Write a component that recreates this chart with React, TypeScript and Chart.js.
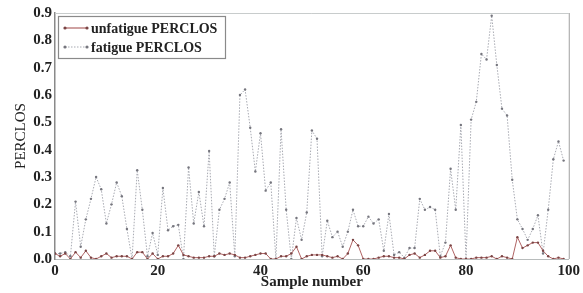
import React, { useEffect, useRef } from "react";
import { Chart, registerables } from "chart.js";

Chart.register(...registerables);

const samples: number[] = Array.from({ length: 100 }, (_, i) => i);

const unfatigue: number[] = [
  0.02, 0.01, 0.02, 0.0, 0.025, 0.005, 0.03, 0.005, 0.0, 0.01,
  0.02, 0.005, 0.01, 0.01, 0.01, 0.0, 0.025, 0.025, 0.0, 0.02,
  0.0, 0.01, 0.01, 0.02, 0.05, 0.015, 0.01, 0.005, 0.005, 0.005,
  0.01, 0.01, 0.02, 0.015, 0.02, 0.015, 0.005, 0.005, 0.01, 0.015,
  0.02, 0.02, 0.0, 0.0, 0.01, 0.01, 0.02, 0.045, 0.0, 0.01,
  0.015, 0.015, 0.015, 0.01, 0.005, 0.01, 0.0, 0.02, 0.07, 0.05,
  0.0, 0.0, 0.0, 0.005, 0.01, 0.01, 0.005, 0.005, 0.0, 0.015,
  0.02, 0.005, 0.015, 0.03, 0.03, 0.005, 0.01, 0.05, 0.005, 0.0,
  0.0, 0.0, 0.005, 0.005, 0.005, 0.01, 0.0, 0.01, 0.005, 0.0,
  0.08, 0.04, 0.05, 0.06, 0.06, 0.03, 0.01, 0.0, 0.005, 0.0,
];

const fatigue: number[] = [
  0.02, 0.02, 0.025, 0.01, 0.21, 0.045, 0.145, 0.22, 0.3, 0.255,
  0.13, 0.2, 0.28, 0.23, 0.11, 0.0, 0.325, 0.18, 0.01, 0.095,
  0.015, 0.26, 0.105, 0.12, 0.125, 0.0, 0.335, 0.13, 0.245, 0.12,
  0.395, 0.01, 0.18, 0.22, 0.28, 0.01, 0.6, 0.62, 0.48, 0.32,
  0.46, 0.25, 0.28, 0.0, 0.475, 0.18, 0.0, 0.15, 0.07, 0.17,
  0.47, 0.44, 0.01, 0.14, 0.08, 0.1, 0.045, 0.1, 0.18, 0.12,
  0.12, 0.155, 0.13, 0.145, 0.03, 0.165, 0.015, 0.025, 0.005, 0.04,
  0.04, 0.22, 0.18, 0.19, 0.18, 0.01, 0.06, 0.33, 0.18, 0.49,
  0.0, 0.51, 0.575, 0.75, 0.73, 0.89, 0.71, 0.55, 0.525, 0.29,
  0.145, 0.11, 0.07, 0.11, 0.16, 0.02, 0.18, 0.365, 0.43, 0.36,
];

const xTicks: number[] = [0, 20, 40, 60, 80, 100];
const yTicks: number[] = [0, 0.1, 0.2, 0.3, 0.4, 0.5, 0.6, 0.7, 0.8, 0.9];
const seriesLabels: string[] = ["unfatigue PERCLOS", "fatigue PERCLOS"];

const SERIF = "'Liberation Serif', 'DejaVu Serif', serif";

const framePlugin = {
  id: "frameAndLegend",
  afterDraw(chart: any) {
    const { ctx, chartArea } = chart;
    const { left, right, top, bottom } = chartArea;
    ctx.save();
    ctx.lineWidth = 1;
    ctx.strokeStyle = "#c8cccc";
    ctx.beginPath();
    ctx.moveTo(left, top + 0.5);
    ctx.lineTo(right, top + 0.5);
    ctx.stroke();
    ctx.strokeStyle = "#a0a0a0";
    ctx.beginPath();
    ctx.moveTo(right + 0.5, top);
    ctx.lineTo(right + 0.5, bottom);
    ctx.stroke();

    const bx = left + 3;
    const by = top + 3;
    const bw = 167;
    const bh = 42;
    ctx.fillStyle = "#ffffff";
    ctx.fillRect(bx, by, bw, bh);
    ctx.strokeStyle = "#8a8a8a";
    ctx.lineWidth = 1.2;
    ctx.strokeRect(bx + 0.5, by + 0.5, bw, bh);
    ctx.font = "bold 14px " + SERIF;
    ctx.textBaseline = "middle";
    ctx.textAlign = "left";
    const dsets = chart.data.datasets;
    const rows = [by + 12, by + 31];
    dsets.forEach((ds: any, i: number) => {
      const y = rows[i];
      const x0 = bx + 7;
      const x1 = bx + 29;
      ctx.strokeStyle = ds.borderColor;
      ctx.lineWidth = 1.2;
      ctx.setLineDash(ds.borderDash || []);
      ctx.beginPath();
      ctx.moveTo(x0, y);
      ctx.lineTo(x1, y);
      ctx.stroke();
      ctx.setLineDash([]);
      ctx.fillStyle = ds.pointBackgroundColor;
      [x0, x1].forEach((px) => {
        ctx.beginPath();
        ctx.arc(px, y, 1.6, 0, Math.PI * 2);
        ctx.fill();
      });
      ctx.fillStyle = "#222222";
      ctx.fillText(ds.label, bx + 33, y + 1);
    });
    ctx.restore();
  },
};

export default function App() {
  const ref = useRef<HTMLCanvasElement | null>(null);

  useEffect(() => {
    document.body.style.margin = "0";
    const canvas = ref.current;
    if (!canvas) return;
    const chart = new Chart(canvas, {
      type: "line",
      data: {
        datasets: [
          {
            label: seriesLabels[0],
            data: samples.map((s, i) => ({ x: s, y: unfatigue[i] })),
            borderColor: "#b06464",
            borderWidth: 1,
            pointRadius: 1.2,
            pointBackgroundColor: "#7a4444",
            pointBorderWidth: 0,
            tension: 0,
          },
          {
            label: seriesLabels[1],
            data: samples.map((s, i) => ({ x: s, y: fatigue[i] })),
            borderColor: "#a8aab2",
            borderWidth: 1,
            borderDash: [1.5, 1.5],
            pointRadius: 1.2,
            pointBackgroundColor: "#76767e",
            pointBorderWidth: 0,
            tension: 0,
          },
        ],
      },
      options: {
        responsive: false,
        animation: false,
        layout: { padding: { left: 0, right: 7, top: 13, bottom: 0 } },
        plugins: {
          legend: { display: false },
          tooltip: { enabled: false },
        },
        scales: {
          x: {
            type: "linear",
            min: 0,
            max: 100,
            afterBuildTicks: (scale: any) => {
              scale.ticks = xTicks.map((v) => ({ value: v }));
            },
            afterFit: (scale: any) => {
              scale.height = 34;
            },
            grid: { display: false, drawTicks: false },
            border: { display: true, color: "#b8bcbc", width: 1 },
            ticks: {
              padding: 3,
              color: "#222222",
              font: { family: SERIF, size: 15, weight: "bold" },
              maxRotation: 0,
            },
            title: {
              display: true,
              text: "Sample number",
              color: "#222222",
              font: { family: SERIF, size: 15, weight: "bold" },
              padding: { top: 0, bottom: 2 },
            },
          },
          y: {
            type: "linear",
            min: 0,
            max: 0.9,
            afterBuildTicks: (scale: any) => {
              scale.ticks = yTicks.map((v) => ({ value: v }));
            },
            afterFit: (scale: any) => {
              scale.width = 55;
            },
            grid: { display: false, drawTicks: false },
            border: { display: true, color: "#8a8a8a", width: 1.5 },
            ticks: {
              padding: 3,
              color: "#222222",
              font: { family: SERIF, size: 15, weight: "bold" },
              callback: (v: any) => Number(v).toFixed(1),
            },
            title: {
              display: true,
              text: "PERCLOS",
              color: "#222222",
              font: { family: SERIF, size: 15 },
              padding: { top: 12, bottom: 0 },
            },
          },
        },
      },
      plugins: [framePlugin],
    });
    return () => chart.destroy();
  }, []);

  return (
    <div style={{ width: 583, height: 293, background: "#ffffff" }}>
      <canvas ref={ref} width={583} height={293} style={{ display: "block" }} />
    </div>
  );
}
